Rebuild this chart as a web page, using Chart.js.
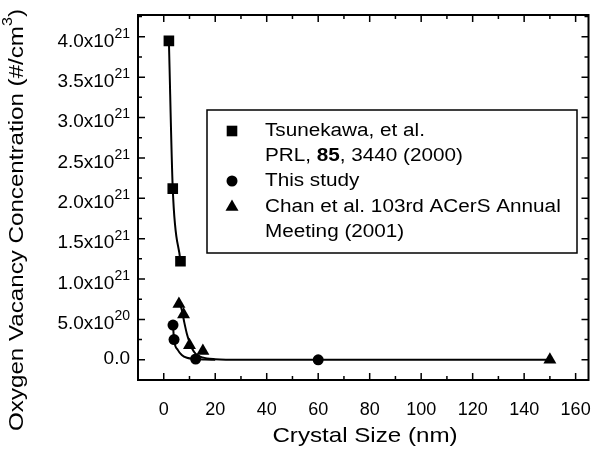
<!DOCTYPE html>
<html>
<head>
<meta charset="utf-8">
<script src="https://cdn.jsdelivr.net/npm/chart.js@4.4.1/dist/chart.umd.min.js"></script>
<style>
  html, body { margin: 0; padding: 0; background: #fff; }
  canvas { display: block; }
</style>
</head>
<body>
<canvas id="vacChart" width="596" height="451"></canvas>
<script>
// data (x in nm, y in #/cm^3)
var squareX = [2, 3.5, 6.5];
var squareY = [3.95e21, 2.12e21, 1.22e21];

var circleX = [3.6, 4, 12.4, 60];
var circleY = [4.3e20, 2.5e20, 1e19, 0];

var triangleX = [5.9, 7.7, 10, 15.2, 150];
var triangleY = [6.9e20, 5.6e20, 1.8e20, 1.1e20, 0];

// fitted curves
var circleFitX = [3.6, 4, 5.5, 7, 9, 12, 16, 20];
var circleFitY = [4.3e20, 2.5e20, 1.2e20, 6e19, 2.5e19, 1e19, 3e18, 0];

var triangleFitX = [5.9, 7, 8, 9, 10, 11, 12.5, 15, 20, 30, 150];
var triangleFitY = [7.4e20, 6.2e20, 4.6e20, 3.2e20, 2.2e20, 1.4e20, 7e19, 3e19, 8e18, 0, 0];

var xTicks = [0, 20, 40, 60, 80, 100, 120, 140, 160];
var yTicks = [0, 0.5e21, 1.0e21, 1.5e21, 2.0e21, 2.5e21, 3.0e21, 3.5e21, 4.0e21];
var yTickMain = ['0.0', '5.0x10', '1.0x10', '1.5x10', '2.0x10', '2.5x10', '3.0x10', '3.5x10', '4.0x10'];
var yTickExp = ['', '20', '21', '21', '21', '21', '21', '21', '21'];

var legendLabels = ['Tsunekawa, et al.', 'PRL, ', '85', ', 3440 (2000)', 'This study',
  'Chan et al. 103rd ACerS Annual', 'Meeting (2001)'];

var FONT = '"Liberation Sans", Arial, Helvetica, sans-serif';
var STRETCH = 1.15; // the scanned lettering is a bit wider than Arial

function pts(xs, ys) {
  return xs.map(function (x, i) { return { x: x, y: ys[i] }; });
}

// left-aligned text, widened by STRETCH; returns drawn width
function wideText(ctx, txt, x, y, font) {
  ctx.font = font;
  var w = ctx.measureText(txt).width * STRETCH;
  ctx.save();
  ctx.translate(x, y);
  ctx.scale(STRETCH, 1);
  ctx.textAlign = 'left';
  ctx.fillText(txt, 0, 0);
  ctx.restore();
  return w;
}

var framePlugin = {
  id: 'frame',
  afterDraw: function (chart) {
    var ctx = chart.ctx;
    var a = chart.chartArea;
    var xs = chart.scales.x, ys = chart.scales.y;
    ctx.save();
    ctx.strokeStyle = '#000';
    ctx.fillStyle = '#000';

    // frame
    ctx.lineWidth = 2;
    ctx.strokeRect(a.left, a.top, a.right - a.left, a.bottom - a.top);

    // inward ticks on all four sides
    ctx.lineWidth = 1.5;
    ctx.beginPath();
    for (var v = -10; v <= 160; v += 10) {
      var px = xs.getPixelForValue(v);
      if (px <= a.left + 1) continue;
      var len = (v % 20 === 0) ? 7 : 4;
      ctx.moveTo(px, a.bottom); ctx.lineTo(px, a.bottom - len);
      ctx.moveTo(px, a.top); ctx.lineTo(px, a.top + len);
    }
    for (var k = 0; k <= 17; k++) {
      var py = ys.getPixelForValue(k * 0.25e21);
      var l2 = (k % 2 === 0) ? 7 : 4;
      ctx.moveTo(a.left, py); ctx.lineTo(a.left + l2, py);
      ctx.moveTo(a.right, py); ctx.lineTo(a.right - l2, py);
    }
    ctx.stroke();

    // y tick labels with superscripts
    ctx.textBaseline = 'middle';
    ctx.textAlign = 'right';
    yTicks.forEach(function (t, i) {
      var py = ys.getPixelForValue(t);
      var right = 130;
      if (yTickExp[i]) {
        ctx.font = '14px ' + FONT;
        var ew = ctx.measureText(yTickExp[i]).width;
        ctx.fillText(yTickExp[i], right, py - 3);
        ctx.font = '19px ' + FONT;
        ctx.fillText(yTickMain[i], right - ew, py + 4.5);
      } else {
        ctx.font = '19px ' + FONT;
        ctx.fillText(yTickMain[i], right, py - 1);
      }
    });

    // y axis title
    ctx.save();
    ctx.translate(17, 220);
    ctx.rotate(-Math.PI / 2);
    var big = '21px ' + FONT, small = '14px ' + FONT;
    var t1 = 'Oxygen Vacancy Concentration (#/cm';
    ctx.font = big;
    var w1 = ctx.measureText(t1).width * STRETCH;
    ctx.font = small;
    var w2 = ctx.measureText('3').width * STRETCH;
    ctx.font = big;
    var w3 = ctx.measureText(')').width * STRETCH;
    var start = -(w1 + w2 + w3) / 2;
    wideText(ctx, t1, start, 0, big);
    wideText(ctx, '3', start + w1, -9, small);
    wideText(ctx, ')', start + w1 + w2, 0, big);
    ctx.restore();

    // x axis title
    ctx.font = '21px ' + FONT;
    var xt = 'Crystal Size (nm)';
    var xw = ctx.measureText(xt).width * STRETCH;
    wideText(ctx, xt, 365 - xw / 2, 436, '21px ' + FONT);

    // legend box
    ctx.lineWidth = 1.5;
    ctx.strokeRect(207, 110, 370, 143);
    var tx = 265;
    var reg = '18px ' + FONT, bold = 'bold 18px ' + FONT;
    wideText(ctx, legendLabels[0], tx, 131, reg);
    var x2 = tx;
    x2 += wideText(ctx, legendLabels[1], x2, 156, reg);
    x2 += wideText(ctx, legendLabels[2], x2, 156, bold);
    wideText(ctx, legendLabels[3], x2, 156, reg);
    wideText(ctx, legendLabels[4], tx, 181, reg);
    wideText(ctx, legendLabels[5], tx, 207, reg);
    wideText(ctx, legendLabels[6], tx, 232, reg);
    ctx.restore();

    // legend symbols, drawn with the library's point helper
    ctx.save();
    ctx.fillStyle = '#000';
    ctx.strokeStyle = '#000';
    Chart.helpers.drawPoint(ctx, { pointStyle: 'rect', rotation: 0, radius: 7.5, borderWidth: 0 }, 232, 131);
    Chart.helpers.drawPoint(ctx, { pointStyle: 'circle', rotation: 0, radius: 5.5, borderWidth: 0 }, 232, 181);
    Chart.helpers.drawPoint(ctx, { pointStyle: 'triangle', rotation: 0, radius: 7.5, borderWidth: 0 }, 232, 207);
    ctx.restore();
  }
};

var ctxVac = document.getElementById('vacChart').getContext('2d');

var vacChart = new Chart(ctxVac, {
  type: 'scatter',
  data: {
    datasets: [{
        label: 'Tsunekawa fit',
        data: pts(squareX, squareY),
        showLine: true,
        borderColor: '#000',
        borderWidth: 2,
        pointRadius: 0,
        cubicInterpolationMode: 'monotone'
    }, {
        label: 'This study fit',
        data: pts(circleFitX, circleFitY),
        showLine: true,
        borderColor: '#000',
        borderWidth: 2,
        pointRadius: 0,
        cubicInterpolationMode: 'monotone'
    }, {
        label: 'Chan fit',
        data: pts(triangleFitX, triangleFitY),
        showLine: true,
        borderColor: '#000',
        borderWidth: 2,
        pointRadius: 0,
        cubicInterpolationMode: 'monotone'
    }, {
        label: 'Tsunekawa, et al. PRL, 85, 3440 (2000)',
        data: pts(squareX, squareY),
        pointStyle: 'rect',
        pointRadius: 7.5,
        backgroundColor: '#000',
        borderColor: '#000',
        borderWidth: 0
    }, {
        label: 'This study',
        data: pts(circleX, circleY),
        pointStyle: 'circle',
        pointRadius: 5.5,
        backgroundColor: '#000',
        borderColor: '#000',
        borderWidth: 0
    }, {
        label: 'Chan et al. 103rd ACerS Annual Meeting (2001)',
        data: pts(triangleX, triangleY),
        pointStyle: 'triangle',
        pointRadius: 7.5,
        backgroundColor: '#000',
        borderColor: '#000',
        borderWidth: 0
    }]
  },
  options: {
    responsive: false,
    animation: false,
    devicePixelRatio: 1,
    layout: { padding: { left: 0, top: 15, right: 6, bottom: 0 } },
    plugins: { legend: { display: false }, tooltip: { enabled: false } },
    scales: {
      x: {
        type: 'linear',
        min: -10,
        max: 165,
        grid: { display: false, drawTicks: false },
        border: { display: false },
        afterBuildTicks: function (s) { s.ticks = xTicks.map(function (v) { return { value: v }; }); },
        afterFit: function (s) { s.height = 71; s.paddingLeft = 0; s.paddingRight = 0; },
        ticks: {
          autoSkip: false,
          maxRotation: 0,
          padding: 19,
          color: '#000',
          font: { family: FONT, size: 18 }
        }
      },
      y: {
        type: 'linear',
        min: -0.25e21,
        max: 4.27e21,
        grid: { display: false, drawTicks: false },
        border: { display: false },
        ticks: { display: false },
        afterFit: function (s) { s.width = 138; s.paddingTop = 0; s.paddingBottom = 0; }
      }
    }
  },
  plugins: [framePlugin]
});
</script>
</body>
</html>
